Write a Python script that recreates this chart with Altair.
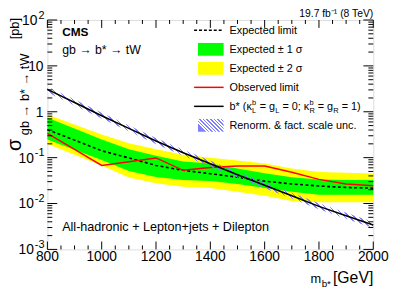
import altair as alt
import pandas as pd

# ---------------- data ----------------
mass = [800, 900, 1000, 1100, 1200, 1300, 1400, 1500, 1600, 1700, 1800, 1900, 2000]
expected = [0.408, 0.241, 0.141, 0.0986, 0.0676, 0.0529, 0.0446, 0.0375, 0.0308, 0.0267, 0.0241, 0.0224, 0.0216]
exp_p1 = [0.745, 0.431, 0.250, 0.152, 0.110, 0.0822, 0.0745, 0.0583, 0.0457, 0.0375, 0.0336, 0.0324, 0.0324]
exp_m1 = [0.250, 0.149, 0.0893, 0.0514, 0.0381, 0.0324, 0.0308, 0.0267, 0.0219, 0.0180, 0.0155, 0.0155, 0.0155]
exp_p2 = [0.876, 0.529, 0.319, 0.206, 0.153, 0.116, 0.100, 0.0863, 0.0745, 0.0583, 0.0487, 0.0468, 0.0450]
exp_m2 = [0.199, 0.116, 0.0676, 0.0370, 0.0276, 0.0233, 0.0219, 0.0180, 0.0148, 0.0113, 0.0107, 0.0107, 0.0107]
observed = [0.34, 0.152, 0.0676, 0.0814, 0.0986, 0.0529, 0.061, 0.066, 0.066, 0.0479, 0.0336, 0.0267, 0.0245]
theory = [3.08, 1.59, 0.822, 0.435, 0.230, 0.128, 0.0735, 0.0425, 0.0250, 0.0148, 0.00867, 0.00542, 0.00340]
theory_up = [3.57, 1.84, 0.954, 0.505, 0.267, 0.148, 0.0853, 0.0493, 0.0290, 0.0172, 0.0101, 0.00629, 0.00394]
theory_dn = [2.66, 1.37, 0.709, 0.375, 0.198, 0.110, 0.0634, 0.0366, 0.0216, 0.0128, 0.00747, 0.00467, 0.00293]

x_label_values = [800, 1000, 1200, 1400, 1600, 1800, 2000]
x_label_text = ["800", "1000", "1200", "1400", "1600", "1800", "2000"]
y_label_values = [0.001, 0.01, 0.1, 1, 10, 100]
y_label_base = ["10", "10", "10", "1", "10", "10"]
y_label_exp = ["-3", "-2", "-1", "", "", "2"]
x_minor_ticks = [850, 900, 950, 1050, 1100, 1150, 1250, 1300, 1350, 1450, 1500, 1550,
                 1650, 1700, 1750, 1850, 1900, 1950]
y_minor_ticks = [m * 10.0 ** e for e in range(-3, 2) for m in range(2, 10)]

df = pd.DataFrame({
    "mass": mass, "expected": expected, "exp_p1": exp_p1, "exp_m1": exp_m1,
    "exp_p2": exp_p2, "exp_m2": exp_m2, "observed": observed,
    "theory": theory, "theory_up": theory_up, "theory_dn": theory_dn,
})

# ---------------- layout ----------------
W, H = 331, 233
X0, Y0 = 48, 18          # page position of the plot area
FONT = "Liberation Sans"
HATCH = "#8080ff"

xs = alt.Scale(domain=[800, 2000], nice=False, zero=False)
ys = alt.Scale(type="log", domain=[1e-3, 1e2], nice=False)


def hatch(n, ay, frac=0.32):
    stops = []
    clear = "rgba(255,255,255,0)"
    for k in range(n):
        a = k / n
        b = (k + frac) / n
        c = (k + 1) / n
        stops += [{"offset": a, "color": HATCH}, {"offset": b, "color": HATCH},
                  {"offset": b, "color": clear}, {"offset": c, "color": clear}]
    return {"gradient": "linear", "x1": 0, "y1": ay, "x2": 1, "y2": 0, "stops": stops}


def X(f):
    return alt.X(f, type="quantitative", scale=xs, axis=None)


def Y(f):
    return alt.Y(f, type="quantitative", scale=ys, axis=None)


base = alt.Chart(df)

yellow = base.mark_area(color="#ffff00").encode(x=X("mass"), y=Y("exp_p2"), y2="exp_m2:Q")
green = base.mark_area(color="#00ff00").encode(x=X("mass"), y=Y("exp_p1"), y2="exp_m1:Q")
exp_line = base.mark_line(color="black", strokeWidth=1.6, strokeDash=[3, 2.5]).encode(
    x=X("mass"), y=Y("expected"))
obs_line = base.mark_line(color="#ff0000", strokeWidth=1.5).encode(x=X("mass"), y=Y("observed"))
hatch_band = base.mark_area(fill=hatch(80, 0.4345), strokeWidth=0).encode(
    x=X("mass"), y=Y("theory_up"), y2="theory_dn:Q")
theory_line = base.mark_line(color="black", strokeWidth=1.6).encode(x=X("mass"), y=Y("theory"))


# inward ticks on all four sides
def xticks(vals, length):
    c = alt.Chart(pd.DataFrame({"v": vals})).mark_rule(color="black", strokeWidth=1)
    return (c.encode(x=X("v"), y=alt.value(H), y2=alt.value(H - length)) +
            c.encode(x=X("v"), y=alt.value(0), y2=alt.value(length)))


def yticks(vals, length):
    c = alt.Chart(pd.DataFrame({"v": vals})).mark_rule(color="black", strokeWidth=1)
    return (c.encode(y=Y("v"), x=alt.value(0), x2=alt.value(length)) +
            c.encode(y=Y("v"), x=alt.value(W), x2=alt.value(W - length)))


# tick labels, placed through the scales
xlab = alt.Chart(pd.DataFrame({"v": x_label_values, "t": x_label_text})).mark_text(
    font=FONT, fontSize=14, align="center", baseline="alphabetic", color="black").encode(
    x=X("v"), y=alt.value(H + 12), text="t:N")

ylabs = []
for v, b, e in zip(y_label_values, y_label_base, y_label_exp):
    d = pd.DataFrame({"v": [v]})
    ew = 0.889 * 11 if len(e) == 2 else (0.556 * 11 if e else 0)
    ylabs.append(alt.Chart(d).mark_text(
        text=b, font=FONT, fontSize=14, align="right", baseline="alphabetic",
        dy=5, color="black").encode(y=Y("v"), x=alt.value(-4 - ew)))
    if e:
        ylabs.append(alt.Chart(d).mark_text(
            text=e, font=FONT, fontSize=11, align="right", baseline="alphabetic",
            dy=-1.5, color="black").encode(y=Y("v"), x=alt.value(-3)))

one = pd.DataFrame({"k": [0]})


def txt(s, x, y, size=11, align="left", angle=0, weight="normal", color="black"):
    return alt.Chart(one).mark_text(
        text=s, font=FONT, fontSize=size, align=align, baseline="alphabetic",
        angle=angle, fontWeight=weight, color=color).encode(
        x=alt.value(x - X0), y=alt.value(y - Y0))


def hline(x1, x2, y, color, width=1.5, dash=None):
    kw = {"strokeDash": dash} if dash else {}
    return alt.Chart(one).mark_rule(color=color, strokeWidth=width, **kw).encode(
        x=alt.value(x1 - X0), x2=alt.value(x2 - X0), y=alt.value(y - Y0))


def box(x1, x2, y1, y2, fill):
    return alt.Chart(one).mark_rect(fill=fill, strokeWidth=0).encode(
        x=alt.value(x1 - X0), x2=alt.value(x2 - X0),
        y=alt.value(y1 - Y0), y2=alt.value(y2 - Y0))


rows = [28.5, 47.8, 67.1, 86.4, 105.7, 125.0]
LX = 233
legend = [
    hline(197, 227, rows[0], "black", 1.5, [3, 2]),
    txt("Expected limit", LX, rows[0] + 4),
    box(201, 227, rows[1] - 6.5, rows[1] + 6.5, "#00ff00"),
    txt("Expected ± 1 σ", LX, rows[1] + 4),
    box(201, 227, rows[2] - 6.5, rows[2] + 6.5, "#ffff00"),
    txt("Expected ± 2 σ", LX, rows[2] + 4),
    hline(197, 227, rows[3], "#ff0000", 1.5),
    txt("Observed limit", LX, rows[3] + 4),
    hline(197, 227, rows[4], "black", 1.5),
    txt("b* (κ", LX, rows[4] + 4),
    txt("b", 255.8, rows[4] - 1.5, 7.5),
    txt("L", 255.8, rows[4] + 7, 7.5),
    txt("= g", 263.6, rows[4] + 4),
    txt("L", 279.4, rows[4] + 7, 7.5),
    txt("= 0; κ", 286.7, rows[4] + 4),
    txt("b", 314.1, rows[4] - 1.5, 7.5),
    txt("R", 314.1, rows[4] + 7, 7.5),
    txt("= g", 322.6, rows[4] + 4),
    txt("R", 338.4, rows[4] + 7, 7.5),
    txt("= 1)", 346.9, rows[4] + 4),
    box(201, 227, rows[5] - 6.5, rows[5] + 6.5, hatch(9, 0.5, 0.45)),
    txt("Renorm. & fact. scale unc.", LX, rows[5] + 4),
]

labels = [
    txt("CMS", 63, 34, 12, weight="bold"),
    txt("gb → b* → tW", 63, 53, 12.5),
    txt("All-hadronic + Lepton+jets + Dilepton", 63, 232, 12.8),
    txt("19.7 fb⁻¹ (8 TeV)", 379, 15, 10.5, align="right"),
    # x title
    txt("[GeV]", 379, 285, 16, align="right"),
    txt("b*", 336, 289, 10, align="right"),
    txt("m", 326, 285, 13, align="right"),
    # y title (rotated)
    txt("σ", 21, 151, 20, align="left", angle=270),
    txt("gb → b* → tW", 29.5, 135, 13, align="left", angle=270),
    txt("[pb]", 19.5, 16, 13, align="right", angle=270),
]

chart = alt.layer(
    yellow, green, exp_line, obs_line, hatch_band, theory_line,
    xticks(x_label_values, 8), xticks(x_minor_ticks, 4),
    yticks(y_label_values, 10), yticks(y_minor_ticks, 5),
    xlab, *ylabs, *legend, *labels,
).properties(
    width=W, height=H, autosize=alt.AutoSizeParams(type="none"),
    padding={"left": 40, "top": 10, "right": 18, "bottom": 37},
).configure_view(stroke="black", strokeWidth=1).configure(background="white")

chart.save("out.html", embed_options={"renderer": "svg", "actions": False})
